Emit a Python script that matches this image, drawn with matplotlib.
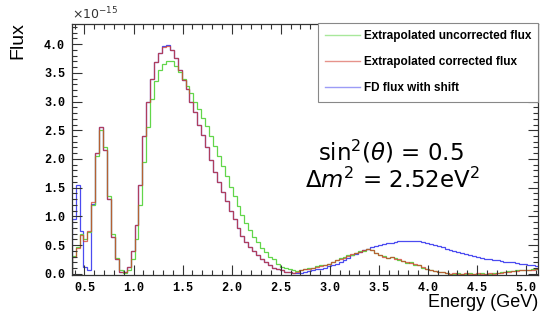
import matplotlib
matplotlib.use('Agg')
import matplotlib.pyplot as plt
import numpy as np
from matplotlib.lines import Line2D
from matplotlib.ticker import MultipleLocator, FormatStrFormatter

# bin edges, 0.04 GeV wide
edges = np.round(np.linspace(0.37, 5.13, 120), 2)

uncorrected = [
    0.31, 0.46, 0.70, 0.60, 0.73, 1.20, 2.05, 2.50, 2.20, 1.35,
    0.70, 0.28, 0.06, 0.02, 0.06, 0.25, 0.60, 1.20, 1.95, 2.55,
    3.05, 3.35, 3.55, 3.65, 3.70, 3.70, 3.62, 3.52, 3.40, 3.27,
    3.14, 3.00, 2.87, 2.72, 2.58, 2.40, 2.22, 2.05, 1.88, 1.70,
    1.52, 1.35, 1.18, 1.02, 0.88, 0.76, 0.65, 0.55, 0.45, 0.38,
    0.30, 0.25, 0.17, 0.12, 0.10, 0.08, 0.06, 0.05, 0.07, 0.09,
    0.10, 0.11, 0.13, 0.15, 0.16, 0.18, 0.21, 0.24, 0.27, 0.29,
    0.32, 0.33, 0.37, 0.39, 0.40, 0.44, 0.42, 0.37, 0.32, 0.31,
    0.27, 0.30, 0.27, 0.24, 0.23, 0.19, 0.20, 0.16, 0.15, 0.11,
    0.09, 0.06, 0.05, 0.03, 0.03, 0.01, 0.00, 0.00, 0.01, 0.00,
    0.00, 0.01, 0.00, 0.00, 0.01, 0.00, 0.00, 0.01, 0.01, 0.03,
    0.04, 0.05, 0.05, 0.06, 0.06, 0.07, 0.07, 0.08, 0.08,
]

corrected = [
    0.30, 0.45, 0.68, 0.58, 0.75, 1.25, 2.10, 2.55, 2.15, 1.30,
    0.65, 0.25, 0.04, 0.03, 0.12, 0.40, 0.85, 1.55, 2.40, 3.00,
    3.40, 3.68, 3.85, 3.95, 3.97, 3.90, 3.75, 3.55, 3.38, 3.22,
    3.00, 2.82, 2.60, 2.42, 2.20, 1.98, 1.78, 1.60, 1.43, 1.26,
    1.10, 0.95, 0.80, 0.66, 0.56, 0.47, 0.40, 0.33, 0.26, 0.20,
    0.15, 0.11, 0.08, 0.06, 0.04, 0.03, 0.02, 0.03, 0.06, 0.08,
    0.09, 0.10, 0.12, 0.14, 0.16, 0.17, 0.20, 0.24, 0.26, 0.28,
    0.31, 0.34, 0.36, 0.38, 0.41, 0.43, 0.41, 0.36, 0.33, 0.30,
    0.28, 0.29, 0.26, 0.25, 0.22, 0.20, 0.19, 0.17, 0.15, 0.12,
    0.08, 0.07, 0.05, 0.04, 0.03, 0.01, 0.00, 0.01, 0.00, 0.00,
    0.01, 0.00, 0.00, 0.01, 0.00, 0.00, 0.01, 0.00, 0.01, 0.02,
    0.03, 0.04, 0.05, 0.05, 0.06, 0.06, 0.07, 0.07, 0.08,
]

fd_shift = [
    0.95, 1.55, 0.75, 0.12, 0.06, 1.22, 2.10, 2.55, 2.15, 1.30,
    0.65, 0.25, 0.04, 0.03, 0.12, 0.40, 0.85, 1.55, 2.40, 3.00,
    3.40, 3.68, 3.85, 3.96, 3.98, 3.90, 3.75, 3.55, 3.38, 3.22,
    3.00, 2.82, 2.60, 2.42, 2.20, 1.98, 1.78, 1.60, 1.43, 1.26,
    1.10, 0.95, 0.80, 0.66, 0.56, 0.47, 0.40, 0.33, 0.26, 0.20,
    0.15, 0.11, 0.08, 0.06, 0.04, 0.03, 0.01, 0.01, 0.02, 0.03,
    0.05, 0.06, 0.08, 0.09, 0.11, 0.13, 0.15, 0.18, 0.21, 0.24,
    0.28, 0.32, 0.35, 0.38, 0.41, 0.44, 0.46, 0.48, 0.50, 0.52,
    0.535, 0.545, 0.555, 0.565, 0.57, 0.575, 0.575, 0.575, 0.57, 0.56,
    0.545, 0.525, 0.505, 0.485, 0.46, 0.44, 0.42, 0.40, 0.38, 0.36,
    0.34, 0.325, 0.31, 0.295, 0.28, 0.265, 0.25, 0.24, 0.235, 0.225,
    0.215, 0.205, 0.20, 0.19, 0.18, 0.17, 0.16, 0.15, 0.14,
]

labels = ["Extrapolated uncorrected flux", "Extrapolated corrected flux", "FD flux with shift"]
c_green, c_red, c_blue = '#62d64a', '#d23a2c', '#4b4bf0'

W, H = 550, 323
fig = plt.figure(figsize=(W / 100, H / 100), dpi=100)
ax = fig.add_axes([72 / W, 1 - 275 / H, (538 - 72) / W, (275 - 24) / H])

ax.stairs(fd_shift, edges, color=c_blue, lw=0.9)
ax.stairs(uncorrected, edges, color=c_green, lw=0.9)
ax.stairs(corrected, edges, color=c_red, lw=0.9, alpha=0.75)

ax.set_xlim(0.373, 5.122)
ax.set_ylim(-0.02, 4.35)

mono = dict(family='Liberation Mono', weight='bold', size=8.5)
ax.xaxis.set_major_locator(MultipleLocator(0.5))
ax.xaxis.set_minor_locator(MultipleLocator(0.1))
ax.yaxis.set_major_locator(MultipleLocator(0.5))
ax.yaxis.set_minor_locator(MultipleLocator(0.1))
ax.xaxis.set_major_formatter(FormatStrFormatter('%.1f'))
ax.yaxis.set_major_formatter(FormatStrFormatter('%.1f'))
ax.tick_params(which='both', direction='in', top=True, right=True, width=0.8, color='#333333')
ax.tick_params(which='major', length=7, pad=5)
ax.tick_params(which='minor', length=3.5)
for lab in ax.get_xticklabels() + ax.get_yticklabels():
    lab.set_fontproperties(matplotlib.font_manager.FontProperties(**mono))
for s in ax.spines.values():
    s.set_linewidth(0.9)
    s.set_color('#333333')

fig.text(72 / W, 1 - 22 / H, r'$\times10^{-15}$', fontsize=9, ha='left', va='bottom', color='#333333')
fig.text(18 / W, 1 - 22 / H, 'Flux', rotation=90, fontsize=14, family='Liberation Sans',
         ha='center', va='top')
fig.text(538 / W, 1 - 294 / H, 'Energy (GeV)', fontsize=13, family='Liberation Sans',
         ha='right', va='top')

fig.text(391 / W, 1 - 160 / H, r'$\sin^2\!(\theta)$ = 0.5', fontsize=16.5, ha='center', va='baseline')
fig.text(392 / W, 1 - 188 / H, r'$\Delta m^2$ = 2.52eV$^2$', fontsize=16.5, ha='center', va='baseline')

handles = [Line2D([], [], color=c, lw=1, alpha=0.55) for c in (c_green, c_red, c_blue)]
leg = fig.legend(handles, labels, loc='upper right', bbox_to_anchor=(538 / W, 1 - 23 / H),
                 prop=dict(family='Liberation Sans', weight='bold', size=8.5),
                 frameon=True, fancybox=False, edgecolor='#888888', framealpha=1,
                 borderpad=0.6, labelspacing=1.2, handlelength=3.0, handletextpad=0.3,
                 borderaxespad=0)
leg.get_frame().set_linewidth(0.8)

fig.savefig('out.png', dpi=100, facecolor='white')
